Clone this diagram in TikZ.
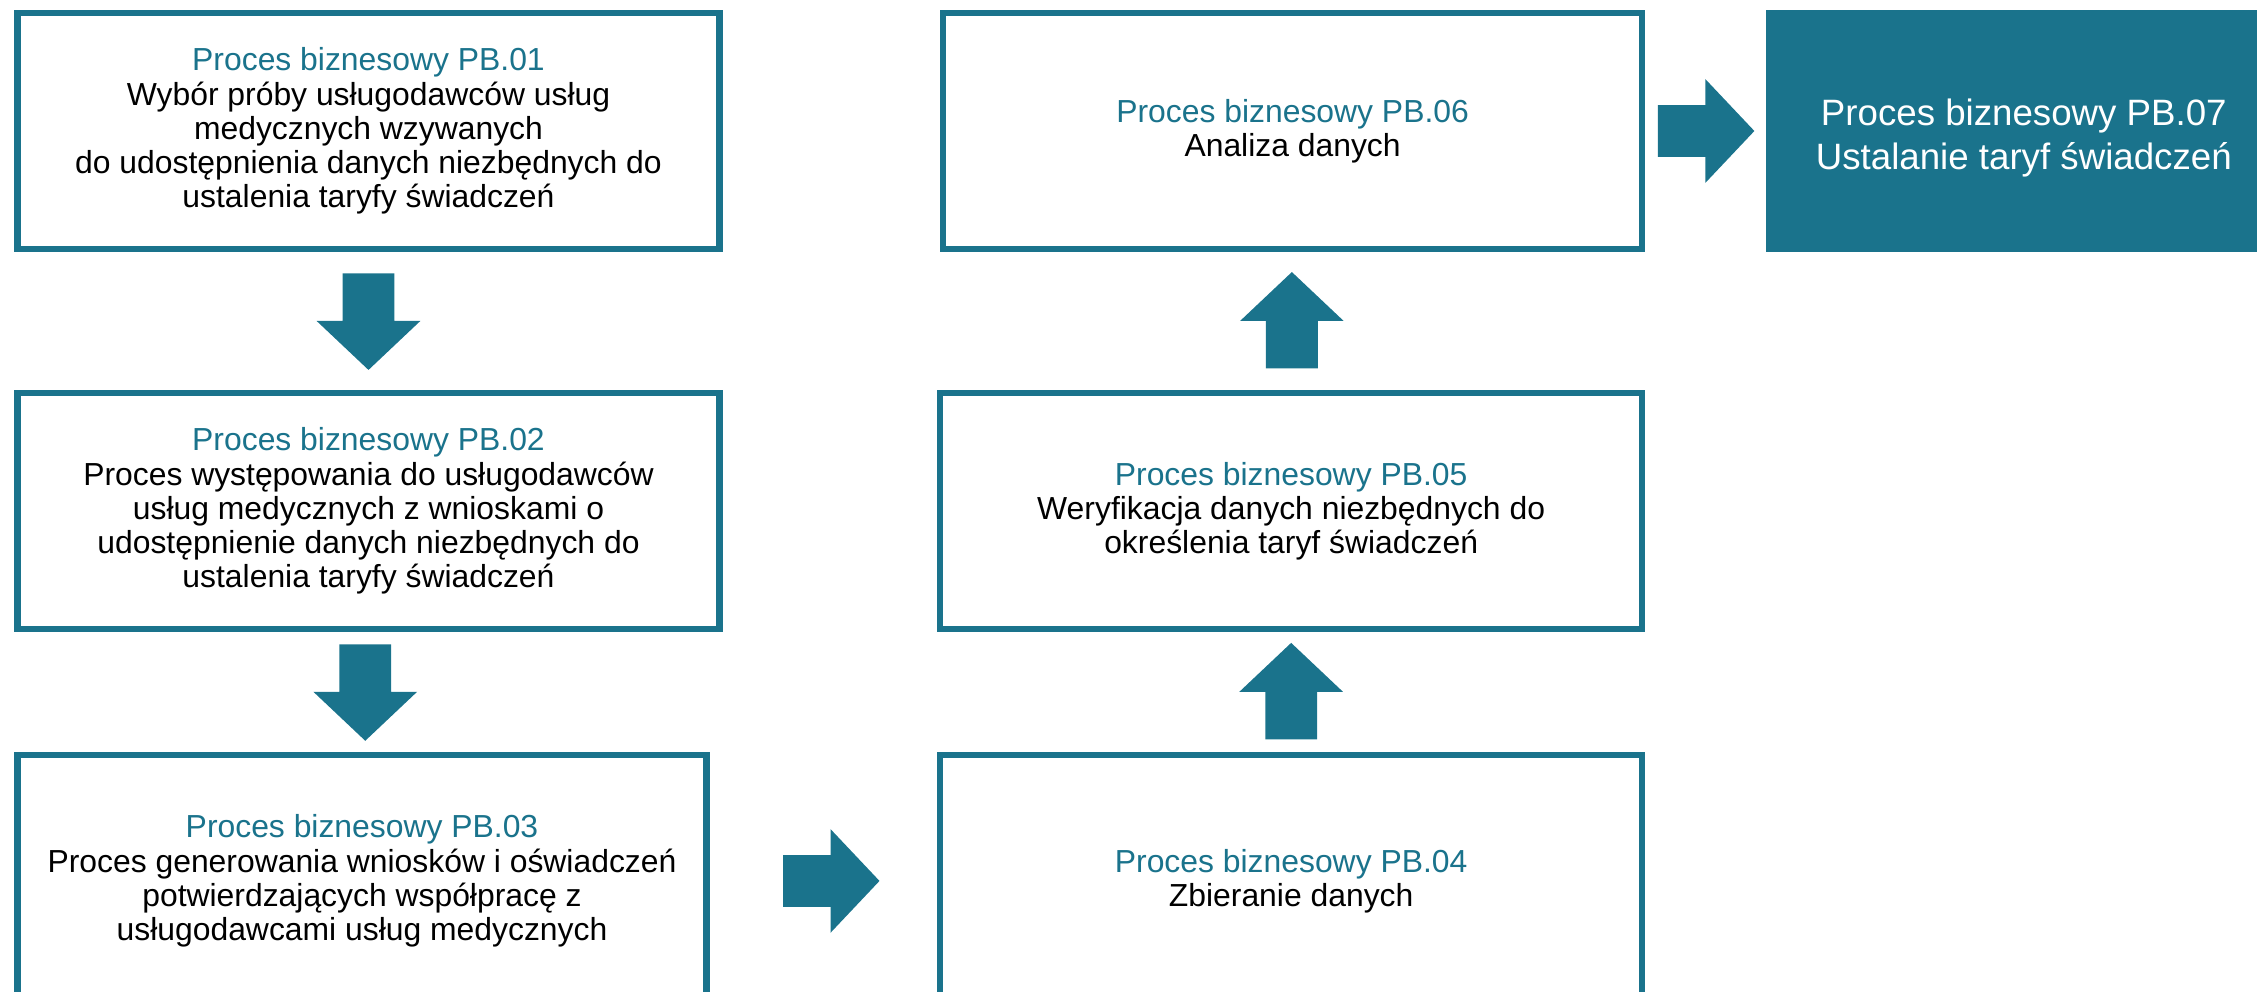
\documentclass[tikz,border=0pt]{standalone}
\usepackage{fontspec}
\setmainfont{Liberation Sans}
\usetikzlibrary{calc}
\definecolor{pbteal}{RGB}{26,115,140}
\newcommand\pbtitle[1]{\textcolor{pbteal}{Proces biznesowy PB.#1}}
\begin{document}
\begin{tikzpicture}[x=0.2mm, y=-0.2mm, font=\fontsize{12.6}{13.5}\selectfont,
	box/.style={draw=pbteal, line width=2.5pt, fill=white, align=center, inner sep=0pt,
		minimum width=97.5mm, minimum height=32.7mm},
	blockarr/.pic={\fill [pbteal] (-33,-18) -- (0,-18) -- (0,-36) -- (34,0) -- (0,36) -- (0,18) -- (-33,18) -- cycle;}]
	\useasboundingbox (0,0) rectangle (1568,689);
	\clip (0,0) rectangle (1568,689);
	%
	\node [box] (pb1) at (256,91) {\pbtitle{01}\\Wybór próby usługodawców usług\\medycznych wzywanych\\do udostępnienia danych niezbędnych do\\ustalenia taryfy świadczeń};
	\node [box] (pb2) at (256,355) {\pbtitle{02}\\Proces występowania do usługodawców\\usług medycznych  z wnioskami o\\udostępnienie danych niezbędnych do\\ustalenia taryfy świadczeń};
	\node [box, minimum width=95.7mm, minimum height=35mm] (pb3) at (251.5,612) {\pbtitle{03}\\Proces generowania wniosków i oświadczeń\\potwierdzających współpracę z\\usługodawcami usług medycznych};
	\node [box, minimum height=35mm] (pb4) at (897,612) {\pbtitle{04}\\Zbieranie danych};
	\node [box] (pb5) at (897,355) {\pbtitle{05}\\Weryfikacja danych niezbędnych do\\określenia taryf świadczeń};
	\node [box, minimum width=97.1mm] (pb6) at (898,91) {\pbtitle{06}\\Analiza danych};
	\node [fill=pbteal, text=white, align=center, minimum width=71.6mm, minimum height=33.6mm,
		font=\fontsize{14.5}{17.5}\selectfont] (pb7) at (1406,91) {\rule{0pt}{16pt}Proces biznesowy PB.07\\Ustalanie taryf świadczeń};
	%
	\pic [rotate=-90] at ($(pb1.south)!.5!(pb2.north)$) {blockarr};
	\pic [rotate=-90] at ($(pb2.south)!.5!(pb3.north)$) {blockarr};
	\pic at ($(pb3.east)!.5!(pb4.west)+(5,0)$) {blockarr};
	\pic [rotate=90] at ($(pb4.north)!.5!(pb5.south)$) {blockarr};
	\pic [rotate=90] at ($(pb5.north)!.5!(pb6.south)$) {blockarr};
	\pic at ($(pb6.east)!.5!(pb7.west)$) {blockarr};
\end{tikzpicture}
\end{document}
